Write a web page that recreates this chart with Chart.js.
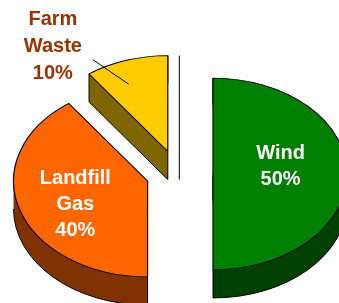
<!DOCTYPE html>
<html>
<head>
<meta charset="utf-8">
<script src="https://cdn.jsdelivr.net/npm/chart.js@4.4.0/dist/chart.umd.min.js"></script>
<style>
html,body{margin:0;padding:0;background:#fff;}
#wrap{width:339px;height:303px;position:relative;}
</style>
</head>
<body>
<div id="wrap"><canvas id="pieChart"></canvas></div>
<script>
// Renewable sources share
const sources = ["Wind", "Landfill Gas", "Farm Waste"];
const shares = [50, 40, 10];

const topColors = ["#008000", "#ff6600", "#ffcc00"];
const sideColors = ["#004000", "#803300", "#806600"];
const textColors = ["#ffffff", "#ffffff", "#993300"];

// fake 3d look
const TILT = 0.716;
const DEPTH = 28;
const EXPLODE = [35, 32, 33];
// label spot: radius fraction and turn (deg) off the slice middle
const LABEL_AT = [{r: 0.51, turn: -8.8}, {r: 0.59, turn: -6}, {r: 1.39, turn: -20.1}];

function shift(a, i) {
  const mid = (a.startAngle + a.endAngle) / 2;
  return {x: Math.cos(mid) * EXPLODE[i], y: Math.sin(mid) * EXPLODE[i]};
}

// point on slice i (unscaled polar) -> screen
function toScreen(a, i, ang, rf) {
  const s = shift(a, i);
  const ux = a.x + s.x + Math.cos(ang) * a.outerRadius * rf;
  const uy = a.y + s.y + Math.sin(ang) * a.outerRadius * rf;
  return {x: ux, y: a.y + (uy - a.y) * TILT};
}

// parts of [s,e] that face the viewer (lower half of the ellipse)
function frontRanges(s, e) {
  const out = [];
  for (let k = -2; k <= 2; k++) {
    const lo = Math.max(s, k * 2 * Math.PI), hi = Math.min(e, k * 2 * Math.PI + Math.PI);
    if (hi > lo) out.push([lo, hi]);
  }
  return out;
}

const pie3d = {
  id: "pie3d",
  beforeDatasetDraw(chart, args) {
    const ctx = chart.ctx;
    const arcs = args.meta.data;
    const cx = arcs[0].x, cy = arcs[0].y;
    const base = ctx.getTransform();
    const dy = DEPTH / TILT;
    ctx.save();
    ctx.translate(cx, cy);
    ctx.scale(1, TILT);
    ctx.translate(-cx, -cy);

    // sides first
    arcs.forEach((a, i) => {
      const s = shift(a, i);
      const R = a.outerRadius;
      const px = ang => a.x + Math.cos(ang) * R;
      const py = ang => a.y + Math.sin(ang) * R;
      ctx.save();
      ctx.translate(s.x, s.y);
      ctx.fillStyle = sideColors[i];
      const edges = new Path2D();

      frontRanges(a.startAngle, a.endAngle).forEach(r => {
        ctx.beginPath();
        ctx.moveTo(px(r[0]), py(r[0]));
        ctx.arc(a.x, a.y, R, r[0], r[1]);
        ctx.lineTo(px(r[1]), py(r[1]) + dy);
        ctx.arc(a.x, a.y + dy, R, r[1], r[0], true);
        ctx.closePath();
        ctx.fill();
        edges.moveTo(px(r[0]), py(r[0]) + dy);
        edges.arc(a.x, a.y + dy, R, r[0], r[1]);
      });
      // flat cut faces turned towards the viewer
      [[a.startAngle, -Math.PI / 2], [a.endAngle, Math.PI / 2]].forEach(([ang, n]) => {
        if (Math.sin(ang + n) <= 0.01) return;
        ctx.beginPath();
        ctx.moveTo(a.x, a.y);
        ctx.lineTo(px(ang), py(ang));
        ctx.lineTo(px(ang), py(ang) + dy);
        ctx.lineTo(a.x, a.y + dy);
        ctx.closePath();
        ctx.fill();
        edges.moveTo(a.x, a.y + dy);
        edges.lineTo(px(ang), py(ang) + dy);
      });
      [[a.x, a.y], [px(a.startAngle), py(a.startAngle)], [px(a.endAngle), py(a.endAngle)]].forEach(p => {
        edges.moveTo(p[0], p[1]);
        edges.lineTo(p[0], p[1] + dy);
      });
      const m = ctx.getTransform();
      const screenEdges = new Path2D();
      screenEdges.addPath(edges, m);
      ctx.save();
      ctx.setTransform(base);
      ctx.strokeStyle = "#000";
      ctx.lineWidth = 1;
      ctx.stroke(screenEdges);
      ctx.restore();
      ctx.restore();
    });

    // top faces
    arcs.forEach((a, i) => {
      const s = shift(a, i);
      ctx.save();
      ctx.translate(s.x, s.y);
      a.draw(ctx);
      ctx.restore();
    });
    ctx.restore();
    return false;
  },
  afterDatasetsDraw(chart) {
    const ctx = chart.ctx;
    const arcs = chart.getDatasetMeta(0).data;
    const total = shares.reduce((p, v) => p + v, 0);
    ctx.save();
    ctx.font = "bold 20px 'Liberation Sans', Arial, sans-serif";
    ctx.textAlign = "center";
    ctx.textBaseline = "middle";
    arcs.forEach((a, i) => {
      const mid = (a.startAngle + a.endAngle) / 2;
      const spot = LABEL_AT[i];
      const p = toScreen(a, i, mid + spot.turn * Math.PI / 180, spot.r);
      const lines = sources[i].split(" ").concat([Math.round(shares[i] / total * 100) + "%"]);
      const lh = i === 2 ? 27 : 26;
      ctx.fillStyle = textColors[i];
      lines.forEach((t, k) => {
        ctx.fillText(t, p.x, p.y + (k - (lines.length - 1) / 2) * lh);
      });
    });

    // leader for the outside label
    const f = arcs[2];
    const fm = (f.startAngle + f.endAngle) / 2;
    const p1 = toScreen(f, 2, fm - 4.6 * Math.PI / 180, 0.76);
    const p2 = toScreen(f, 2, fm - 12.3 * Math.PI / 180, 1.11);
    ctx.strokeStyle = "#000";
    ctx.lineWidth = 1;
    ctx.beginPath();
    ctx.moveTo(p1.x, p1.y);
    ctx.lineTo(p2.x, p2.y);
    ctx.stroke();

    // stray divider line next to the small slice
    const v = toScreen(f, 2, 0, 0);
    const top = toScreen(f, 2, f.endAngle, 1);
    ctx.beginPath();
    ctx.moveTo(v.x + 11.5, top.y);
    ctx.lineTo(v.x + 11.5, v.y + DEPTH);
    ctx.stroke();
    ctx.restore();
  }
};

new Chart(document.getElementById("pieChart"), {
  type: "pie",
  data: {
    labels: sources,
    datasets: [{
      data: shares,
      backgroundColor: topColors,
      borderColor: "#000",
      borderWidth: 1.2,
      radius: 134
    }]
  },
  options: {
    responsive: true,
    maintainAspectRatio: false,
    animation: false,
    layout: {padding: {left: 17, top: 45}},
    plugins: {
      legend: {display: false},
      tooltip: {enabled: false}
    }
  },
  plugins: [pie3d]
});
</script>
</body>
</html>
